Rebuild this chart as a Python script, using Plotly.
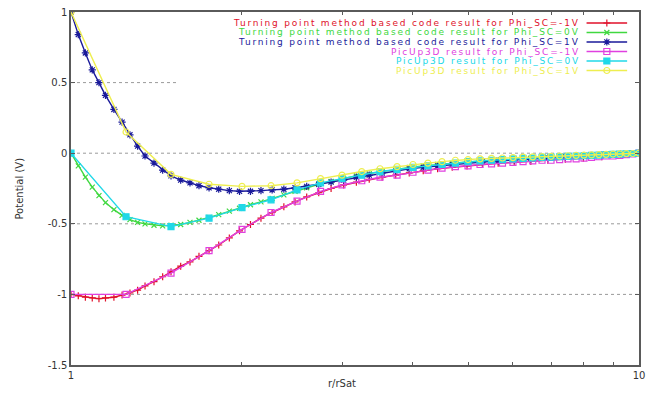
import plotly.graph_objects as go

# ---------------- data ----------------
r_tp = [1.00, 1.03, 1.06, 1.09, 1.12, 1.15, 1.19, 1.23, 1.27, 1.31, 1.35, 1.40, 1.45, 1.50,
        1.56, 1.62, 1.68, 1.75, 1.82, 1.90, 1.98, 2.07, 2.16, 2.26, 2.37, 2.48, 2.60, 2.73,
        2.87, 3.02, 3.18, 3.35, 3.53, 3.73, 3.94, 4.17, 4.42, 4.69, 4.98, 5.30, 5.65, 6.03,
        6.45, 6.91, 7.42, 7.98, 8.60, 9.28, 10.0]

tp_m1 = [-1.00, -1.01, -1.02, -1.025, -1.03, -1.025, -1.02, -1.005, -0.99, -0.97, -0.94, -0.91,
         -0.875, -0.84, -0.80, -0.77, -0.73, -0.69, -0.65, -0.60, -0.55, -0.505, -0.46, -0.42,
         -0.38, -0.345, -0.31, -0.28, -0.25, -0.225, -0.205, -0.185, -0.17, -0.155, -0.14,
         -0.125, -0.11, -0.10, -0.09, -0.08, -0.072, -0.065, -0.058, -0.05, -0.043, -0.035,
         -0.025, -0.013, 0.0]

tp_0 = [0.0, -0.09, -0.17, -0.24, -0.30, -0.35, -0.40, -0.44, -0.47, -0.49, -0.50, -0.51,
        -0.515, -0.51, -0.505, -0.49, -0.475, -0.455, -0.435, -0.41, -0.39, -0.365, -0.345,
        -0.32, -0.295, -0.27, -0.245, -0.22, -0.20, -0.18, -0.16, -0.145, -0.13, -0.115,
        -0.10, -0.09, -0.08, -0.07, -0.062, -0.055, -0.048, -0.042, -0.036, -0.03, -0.025,
        -0.02, -0.014, -0.007, 0.0]

tp_p1 = [1.00, 0.84, 0.71, 0.59, 0.50, 0.41, 0.31, 0.22, 0.13, 0.05, -0.02, -0.07, -0.12,
         -0.16, -0.19, -0.21, -0.23, -0.245, -0.255, -0.265, -0.27, -0.27, -0.265, -0.26,
         -0.255, -0.245, -0.235, -0.22, -0.205, -0.19, -0.17, -0.155, -0.14, -0.125, -0.11,
         -0.10, -0.09, -0.08, -0.07, -0.062, -0.055, -0.048, -0.04, -0.034, -0.028, -0.02,
         -0.014, -0.007, 0.0]

r_pic = [1.0, 1.25, 1.5, 1.75, 2.0, 2.25, 2.5, 2.75, 3.0, 3.25, 3.5, 3.75, 4.0, 4.25, 4.5,
         4.75, 5.0, 5.25, 5.5, 5.75, 6.0, 6.25, 6.5, 6.75, 7.0, 7.25, 7.5, 7.75, 8.0, 8.25,
         8.5, 8.75, 9.0, 9.25, 9.5, 9.75, 10.0]

pic_m1 = [-1.0, -1.0, -0.85, -0.69, -0.54, -0.42, -0.34, -0.27, -0.225, -0.195, -0.17, -0.155,
          -0.135, -0.12, -0.105, -0.095, -0.09, -0.08, -0.075, -0.07, -0.065, -0.06, -0.055,
          -0.05, -0.05, -0.045, -0.04, -0.04, -0.035, -0.03, -0.025, -0.02, -0.02, -0.015,
          -0.01, -0.005, 0.0]

pic_0 = [0.0, -0.45, -0.52, -0.46, -0.385, -0.33, -0.26, -0.21, -0.18, -0.155, -0.13, -0.115,
         -0.10, -0.09, -0.08, -0.07, -0.06, -0.055, -0.05, -0.045, -0.04, -0.037, -0.034,
         -0.03, -0.028, -0.025, -0.022, -0.02, -0.018, -0.015, -0.013, -0.01, -0.008, -0.006,
         -0.004, -0.002, 0.0]

pic_p1 = [1.0, 0.15, -0.15, -0.22, -0.235, -0.23, -0.21, -0.18, -0.155, -0.13, -0.11, -0.095,
          -0.08, -0.07, -0.06, -0.05, -0.045, -0.04, -0.037, -0.034, -0.031, -0.028, -0.026,
          -0.024, -0.022, -0.02, -0.018, -0.016, -0.014, -0.012, -0.01, -0.008, -0.006,
          -0.005, -0.003, -0.002, 0.0]

labels = ["Turning point method based code result for Phi_SC=-1V",
          "Turning point method based code result for Phi_SC=0V",
          "Turning point method based code result for Phi_SC=1V",
          "PicUp3D result for Phi_SC=-1V",
          "PicUp3D result for Phi_SC=0V",
          "PicUp3D result for Phi_SC=1V"]

colors = ["#e0102a", "#40d840", "#1a1a9a", "#e040e0", "#20d8e8", "#eeee50"]
symbols = ["cross-thin-open", "x-thin-open", "asterisk-open", "square-open", "square", "circle-open"]
msizes = [5, 5, 6, 6, 6, 6]

y_ticks = [1, 0.5, 0, -0.5, -1, -1.5]
y_ticktext = ["1", "0.5", "0", "-0.5", "-1", "-1.5"]
grid_levels = [0.5, 0, -0.5, -1]

# ---------------- figure ----------------
W, H = 651, 398
L, R, T, B = 71, 6, 12, 33
pw, ph = W - L - R, H - T - B
FONT = "DejaVu Sans, Verdana, sans-serif"

def px2paper_x(px):
    return (px - L) / pw

def px2paper_y(py):
    return (H - B - py) / ph

fig = go.Figure()

# dotted grid lines (the 0.5 line is interrupted by the key box, as in gnuplot)
for g in grid_levels:
    x_end = px2paper_x(178) if g == 0.5 else 1
    fig.add_shape(type="line", xref="paper", yref="y", x0=0, x1=x_end, y0=g, y1=g,
                  line=dict(color="#9a9a9a", width=1, dash="dot"), layer="below")

series = [(r_tp, tp_m1), (r_tp, tp_0), (r_tp, tp_p1), (r_pic, pic_m1), (r_pic, pic_0), (r_pic, pic_p1)]
for i, (xs, ys) in enumerate(series):
    fig.add_trace(go.Scatter(
        x=xs, y=ys, mode="lines+markers", name=labels[i], showlegend=False,
        line=dict(color=colors[i], width=1.4),
        marker=dict(symbol=symbols[i], size=msizes[i], color=colors[i],
                    line=dict(color=colors[i], width=1.2)),
    ))

# legend (gnuplot-style: right-aligned text, sample on the right)
row_y = [23, 32.5, 42, 51.5, 61, 70.5]
key_x_text = 586
key_x0, key_x1 = 592, 633
for i in range(6):
    fig.add_annotation(xref="paper", yref="paper", x=px2paper_x(key_x_text), y=px2paper_y(row_y[i]),
                       text='<span style="letter-spacing:1.8px">' + labels[i] + '</span>',
                       showarrow=False, xanchor="right", yanchor="middle",
                       borderpad=0,
                       font=dict(family=FONT, size=9, color=colors[i]))
    fig.add_shape(type="line", xref="paper", yref="paper",
                  x0=px2paper_x(key_x0), x1=px2paper_x(key_x1),
                  y0=px2paper_y(row_y[i]), y1=px2paper_y(row_y[i]),
                  line=dict(color=colors[i], width=1.3))
    fig.add_trace(go.Scatter(
        x=[px2paper_x((key_x0 + key_x1) / 2)], y=[px2paper_y(row_y[i])],
        xaxis="x2", yaxis="y2", mode="markers", showlegend=False, hoverinfo="skip",
        marker=dict(symbol=symbols[i], size=msizes[i], color=colors[i],
                    line=dict(color=colors[i], width=1.2)),
    ))

axis_col = "#5a5a5a"
fig.update_layout(
    width=W, height=H,
    margin=dict(l=L, r=R, t=T, b=B, pad=0),
    paper_bgcolor="white", plot_bgcolor="white",
    font=dict(family=FONT, size=10, color="#333333"),
    xaxis=dict(type="log", range=[0, 1], tickvals=[1, 10], ticktext=["1", "10"],
               showline=True, mirror="allticks", linecolor=axis_col, linewidth=1.5,
               ticks="inside", ticklen=4, tickcolor=axis_col, showgrid=False, zeroline=False,
               minor=dict(tickvals=[2, 3, 4, 5, 6, 7, 8, 9], ticks="inside", ticklen=3,
                          tickcolor=axis_col, showgrid=False),
               tickfont=dict(family=FONT, size=10, color="#333333")),
    yaxis=dict(range=[-1.5, 1], tickvals=y_ticks, ticktext=y_ticktext,
               showline=True, mirror="allticks", linecolor=axis_col, linewidth=1.5,
               ticks="inside", ticklen=4, tickcolor=axis_col,
               showgrid=False, zeroline=False,
               tickfont=dict(family=FONT, size=10, color="#333333")),
    xaxis2=dict(range=[0, 1], overlaying="x", visible=False, showgrid=False),
    yaxis2=dict(range=[0, 1], overlaying="y", visible=False, showgrid=False),
)

fig.add_annotation(xref="paper", yref="paper", x=px2paper_x(345), y=px2paper_y(383),
                   text="r/rSat", showarrow=False, xanchor="center", yanchor="middle",
                   font=dict(family=FONT, size=10, color="#333333"))
fig.add_annotation(xref="paper", yref="paper", x=px2paper_x(18), y=px2paper_y(189),
                   text="Potential (V)", showarrow=False, textangle=-90,
                   xanchor="center", yanchor="middle",
                   font=dict(family=FONT, size=10, color="#333333"))

fig.write_html("out.html")
